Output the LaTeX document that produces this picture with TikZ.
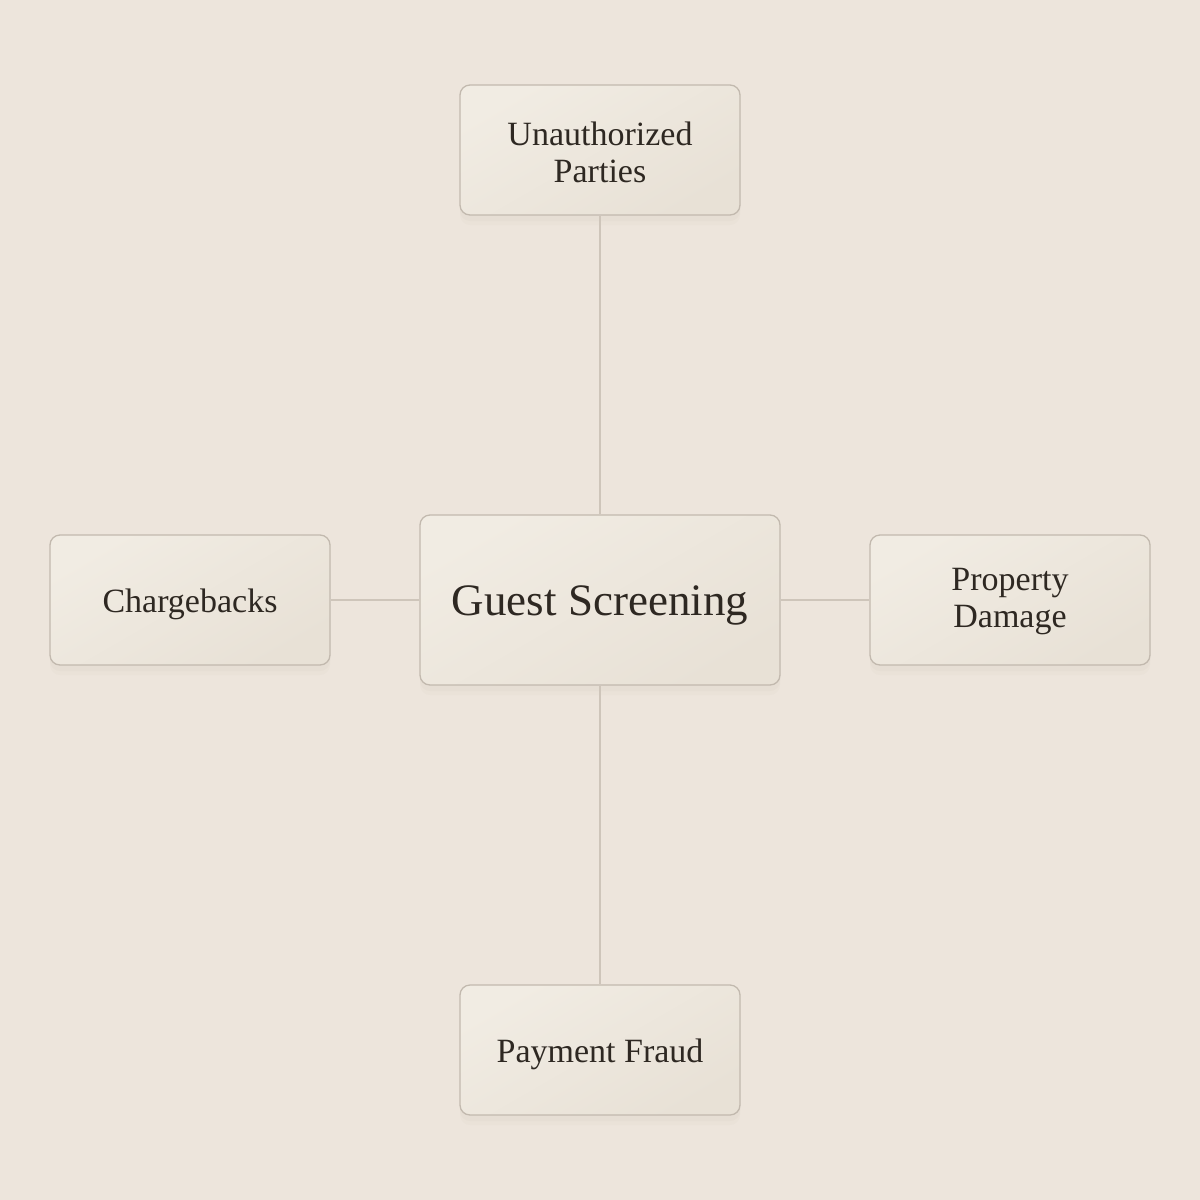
\documentclass[tikz,border=0pt]{standalone}
\usepackage{fontspec}
\setmainfont{Liberation Serif}
\definecolor{bgc}{HTML}{EDE5DC}
\definecolor{boxtop}{HTML}{F1ECE3}
\definecolor{boxbot}{HTML}{E8E1D6}
\definecolor{edgec}{HTML}{C2B9AE}
\definecolor{linec}{HTML}{CEC5BA}
\definecolor{txtc}{HTML}{2E2822}
\definecolor{shc}{HTML}{B8AC9C}
\newcommand{\lowered}[2]{\raisebox{-#1}[\height][\depth]{#2}}
\tikzset{
  x=1pt,y=-1pt,
  card/.style={draw=edgec, line width=1.3pt, rounded corners=10pt,
    top color=boxtop, bottom color=boxbot, shading angle=30,
    text=txtc, align=center, inner sep=0pt, font=\fontsize{34}{37}\selectfont,
    minimum width=280pt, minimum height=130pt,
    preaction={draw=none, fill=shc, fill opacity=0.06, transform canvas={yshift=-6pt}},
    preaction={draw=none, fill=shc, fill opacity=0.05, transform canvas={yshift=-10pt}}},
  bigcard/.style={card, minimum width=360pt, minimum height=170pt, font=\fontsize{45}{52}\selectfont},
  link/.style={draw=linec, line width=1.3pt}
}
\begin{document}
\begin{tikzpicture}
\fill[bgc] (0,0) rectangle (1200,1200);
\useasboundingbox (0,0) rectangle (1200,1200);
\node[bigcard] (c) at (600,600) {\lowered{5pt}{Guest Screening}};
\node[card] (t) at (600,150) {\lowered{2pt}{Unauthorized}\\\lowered{2pt}{Parties}};
\node[card] (l) at (190,600) {\lowered{4pt}{Chargebacks}};
\node[card] (r) at (1010,600) {\lowered{2pt}{Property}\\\lowered{2pt}{Damage}};
\node[card] (b) at (600,1050) {\lowered{4pt}{Payment Fraud}};
\path[link] (c.north) -- (t.south);
\path[link] (c.south) -- (b.north);
\path[link] (c.west) -- (l.east);
\path[link] (c.east) -- (r.west);
\end{tikzpicture}
\end{document}
